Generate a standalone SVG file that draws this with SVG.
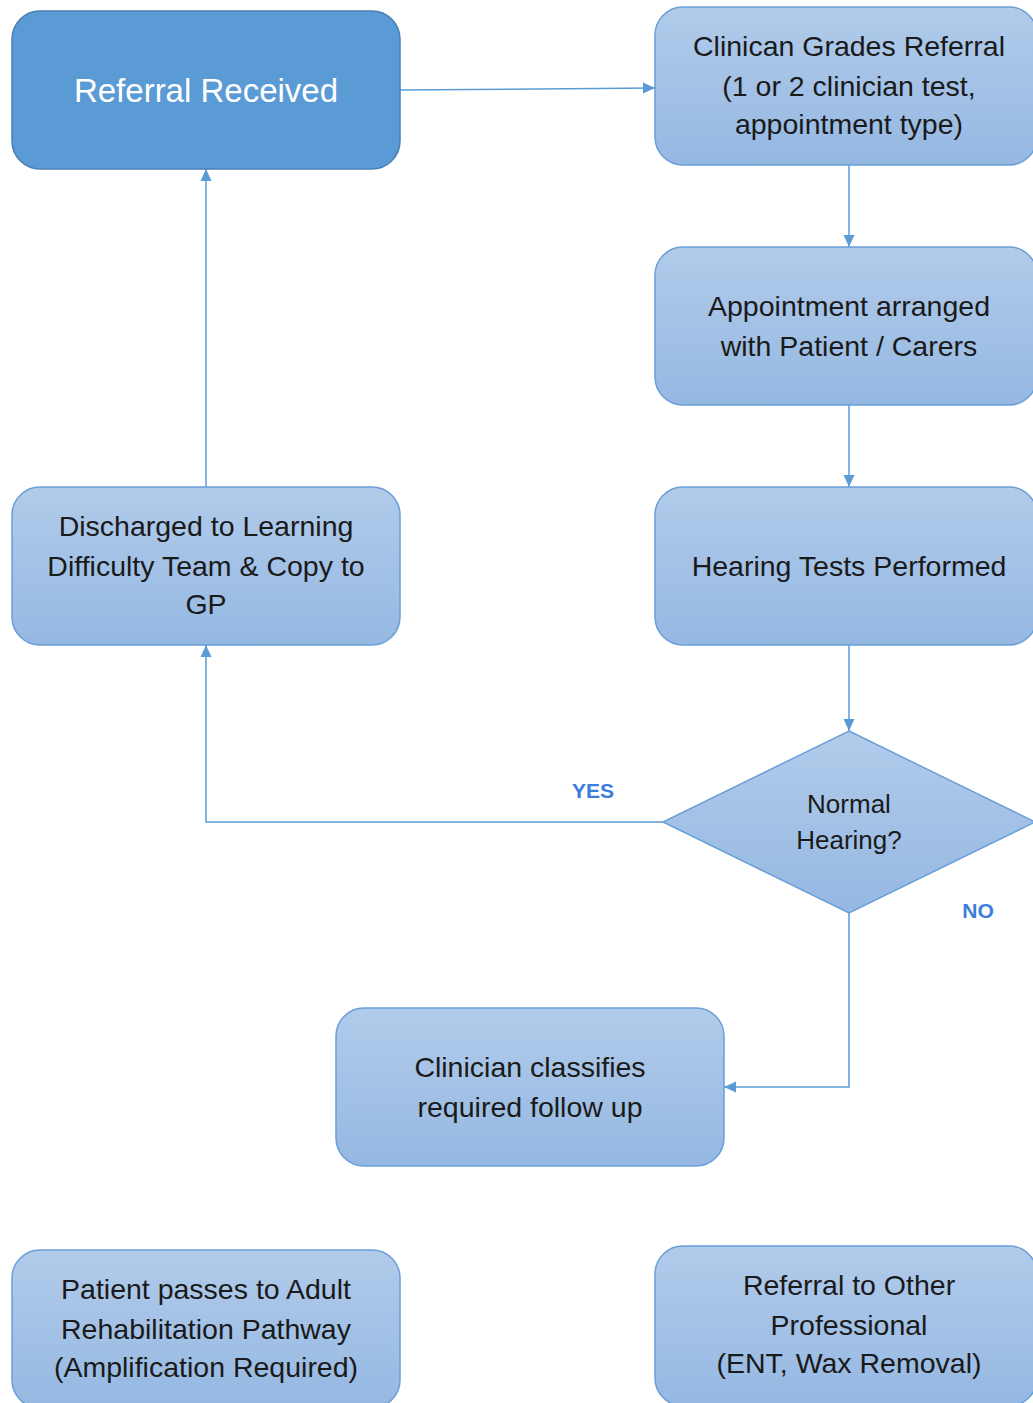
<svg xmlns="http://www.w3.org/2000/svg" width="1033" height="1403" viewBox="0 0 1033 1403">
<defs>
<linearGradient id="g" x1="0" y1="0" x2="0" y2="1">
<stop offset="0" stop-color="#b1cbea"/>
<stop offset="1" stop-color="#95b8e2"/>
</linearGradient>
<marker id="arr" viewBox="0 0 12 12" refX="12" refY="6" markerWidth="12" markerHeight="12" markerUnits="userSpaceOnUse" orient="auto">
<path d="M0,0.5 L12,6 L0,11.5 z" fill="#5b9bd5"/>
</marker>
<style>
.box{fill:url(#g);stroke:#6a9fd8;stroke-width:1.5}
.main{fill:#5b9bd5;stroke:#4a7fb5;stroke-width:1.5}
.t{font-family:"Liberation Sans",Arial,sans-serif;font-size:28.5px;fill:#1a1a1a;text-anchor:middle}
.w{font-family:"Liberation Sans",Arial,sans-serif;font-size:33px;fill:#ffffff;text-anchor:middle}
.lab{font-family:"Liberation Sans",Arial,sans-serif;font-size:21px;font-weight:bold;fill:#3b7dd8;text-anchor:middle}
.c{fill:none;stroke:#5b9bd5;stroke-width:1.5}
</style>
</defs>
<g id="connectors">
<path class="c" d="M400,90 L655,88" marker-end="url(#arr)"/>
<path class="c" d="M849,165 L849,247" marker-end="url(#arr)"/>
<path class="c" d="M849,405 L849,487" marker-end="url(#arr)"/>
<path class="c" d="M849,645 L849,731" marker-end="url(#arr)"/>
<path class="c" d="M663,822 L206,822 L206,645" marker-end="url(#arr)"/>
<path class="c" d="M206,487 L206,169" marker-end="url(#arr)"/>
<path class="c" d="M849,913 L849,1087 L724,1087" marker-end="url(#arr)"/>
<text class="lab" x="593" y="798">YES</text>
<text class="lab" x="978" y="918">NO</text>
</g>
<g id="referral-received">
<rect class="main" x="12" y="11" width="388" height="158" rx="28"/>
<text class="w" x="206" y="102">Referral Received</text>
</g>
<g id="clinician-grades">
<rect class="box" x="655" y="7" width="382" height="158" rx="28"/>
<text class="t" x="849" y="56">Clinican Grades Referral</text>
<text class="t" x="849" y="96">(1 or 2 clinician test,</text>
<text class="t" x="849" y="134">appointment type)</text>
</g>
<g id="appointment">
<rect class="box" x="655" y="247" width="382" height="158" rx="28"/>
<text class="t" x="849" y="316">Appointment arranged</text>
<text class="t" x="849" y="356">with Patient / Carers</text>
</g>
<g id="hearing-tests">
<rect class="box" x="655" y="487" width="382" height="158" rx="28"/>
<text class="t" x="849" y="576">Hearing Tests Performed</text>
</g>
<g id="discharged">
<rect class="box" x="12" y="487" width="388" height="158" rx="28"/>
<text class="t" x="206" y="536">Discharged to Learning</text>
<text class="t" x="206" y="576">Difficulty Team &amp; Copy to</text>
<text class="t" x="206" y="614">GP</text>
</g>
<g id="normal-hearing">
<path class="box" d="M849,731 L1035,822 L849,913 L663,822 z"/>
<text class="t" x="849" y="813" style="font-size:26px">Normal</text>
<text class="t" x="849" y="849" style="font-size:26px">Hearing?</text>
</g>
<g id="classifies">
<rect class="box" x="336" y="1008" width="388" height="158" rx="28"/>
<text class="t" x="530" y="1077">Clinician classifies</text>
<text class="t" x="530" y="1117">required follow up</text>
</g>
<g id="adult-rehab">
<rect class="box" x="12" y="1250" width="388" height="158" rx="28"/>
<text class="t" x="206" y="1299">Patient passes to Adult</text>
<text class="t" x="206" y="1339">Rehabilitation Pathway</text>
<text class="t" x="206" y="1377">(Amplification Required)</text>
</g>
<g id="other-professional">
<rect class="box" x="655" y="1246" width="382" height="160" rx="28"/>
<text class="t" x="849" y="1295">Referral to Other</text>
<text class="t" x="849" y="1335">Professional</text>
<text class="t" x="849" y="1373">(ENT, Wax Removal)</text>
</g>
</svg>
